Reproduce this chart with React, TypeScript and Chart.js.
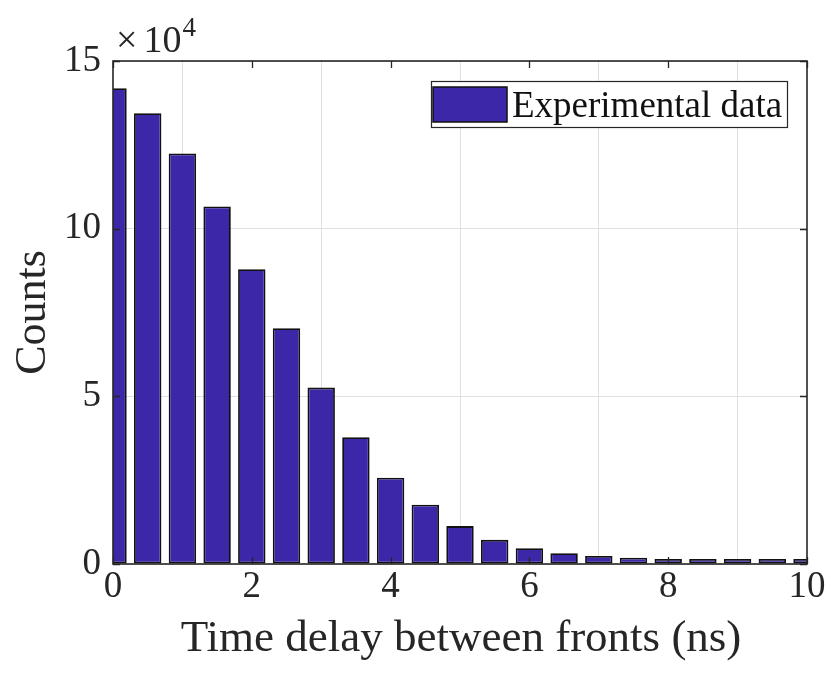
import React, { useEffect, useRef } from 'react';
import { Chart, registerables } from 'chart.js';

Chart.register(...registerables);

// Histogram bin centres (ns)
const binCenters = [0, 0.5, 1, 1.5, 2, 2.5, 3, 3.5, 4, 4.5, 5, 5.5, 6, 6.5, 7, 7.5, 8, 8.5, 9, 9.5, 10];
// Counts per bin
const counts = [
  141900, 134400, 122400, 106600, 87900, 70300, 52600, 37800, 25700, 17700,
  11300, 7200, 4700, 3200, 2400, 1900, 1500, 1500, 1500, 1500, 1500,
];
const seriesLabel = 'Experimental data';
const xTitle = 'Time delay between fronts (ns)';
const yTitle = 'Counts';
const xMin = 0, xMax = 10, xStep = 2;
const yMin = 0, yMax = 150000, yStep = 50000;
const yExponent = 4;

const FONT = '"Liberation Serif", "Times New Roman", serif';
const BAR_FILL = '#3c27a8';
const BAR_EDGE = '#111111';
const AXIS_COLOR = '#262626';

const decorPlugin = {
  id: 'matlabDecor',
  afterDatasetsDraw(chart: any) {
    const { ctx, chartArea: a, scales } = chart;
    const xs = scales.x, ys = scales.y;
    ctx.save();
    ctx.strokeStyle = AXIS_COLOR;
    ctx.lineWidth = 1.3;
    ctx.beginPath();
    const tl = 7;
    for (const t of xs.ticks) {
      const px = Math.round(xs.getPixelForValue(t.value)) + 0.5;
      ctx.moveTo(px, a.bottom); ctx.lineTo(px, a.bottom - tl);
      ctx.moveTo(px, a.top); ctx.lineTo(px, a.top + tl);
    }
    for (const t of ys.ticks) {
      const py = Math.round(ys.getPixelForValue(t.value)) + 0.5;
      ctx.moveTo(a.left, py); ctx.lineTo(a.left + tl, py);
      ctx.moveTo(a.right, py); ctx.lineTo(a.right - tl, py);
    }
    ctx.stroke();
    ctx.lineWidth = 1.6;
    ctx.strokeRect(a.left, a.top, a.right - a.left, a.bottom - a.top);

    // legend
    const lx = 431, ly = 81, lw = 356, lh = 46;
    ctx.fillStyle = '#ffffff';
    ctx.fillRect(lx, ly, lw, lh);
    ctx.lineWidth = 1.2;
    ctx.strokeStyle = AXIS_COLOR;
    ctx.strokeRect(lx + 0.5, ly + 0.5, lw, lh);
    ctx.fillStyle = BAR_FILL;
    ctx.fillRect(433, 87, 74, 35);
    ctx.strokeStyle = BAR_EDGE;
    ctx.lineWidth = 1.5;
    ctx.strokeRect(433, 87, 74, 35);
    ctx.fillStyle = '#111111';
    ctx.font = `37px ${FONT}`;
    ctx.textAlign = 'left';
    ctx.textBaseline = 'alphabetic';
    ctx.fillText(seriesLabel, 512, 117);

    // exponent label
    ctx.fillStyle = '#262626';
    ctx.font = `38px ${FONT}`;
    ctx.fillText('\u00d7', 116, 52);
    const wx = ctx.measureText('\u00d7').width;
    ctx.fillText('10', 116 + wx + 6, 52);
    const w10 = ctx.measureText('10').width;
    ctx.font = `27px ${FONT}`;
    ctx.fillText(String(yExponent), 116 + wx + 6 + w10 + 1, 36);

    // axis titles
    ctx.font = `45px ${FONT}`;
    ctx.textAlign = 'center';
    ctx.fillText(xTitle, (a.left + a.right) / 2 + 1, 651);
    ctx.save();
    ctx.translate(45, (a.top + a.bottom) / 2);
    ctx.rotate(-Math.PI / 2);
    ctx.textBaseline = 'alphabetic';
    ctx.font = `44px ${FONT}`;
    ctx.fillText(yTitle, 0, 0);
    ctx.restore();
    ctx.restore();
  },
};

export default function App() {
  const ref = useRef<HTMLCanvasElement | null>(null);
  useEffect(() => {
    if (!ref.current) return;
    const chart = new Chart(ref.current, {
      type: 'bar',
      data: {
        datasets: [
          {
            label: seriesLabel,
            data: binCenters.map((x, i) => ({ x, y: counts[i] })),
            backgroundColor: BAR_FILL,
            borderColor: BAR_EDGE,
            borderWidth: 1.8,
            borderSkipped: false,
            barPercentage: 0.79,
            categoryPercentage: 1,
            clip: 0,
          } as any,
        ],
      },
      options: {
        responsive: false,
        animation: false,
        devicePixelRatio: 1,
        layout: { padding: { left: 0, right: 24, top: 61, bottom: 0 } },
        plugins: { legend: { display: false }, tooltip: { enabled: false } },
        scales: {
          x: {
            type: 'linear',
            min: xMin,
            max: xMax,
            offset: false,
            afterFit: (s: any) => { s.height = 109; },
            ticks: {
              stepSize: xStep,
              color: '#262626',
              font: { family: FONT, size: 37 },
              padding: 1,
              maxRotation: 0,
            },
            grid: { color: '#e0e0e0', lineWidth: 1, drawTicks: false },
            border: { display: false },
          },
          y: {
            min: yMin,
            max: yMax,
            afterFit: (s: any) => { s.width = 113; },
            ticks: {
              stepSize: yStep,
              color: '#262626',
              font: { family: FONT, size: 37 },
              padding: 12,
              callback: (v: any) => String(Number(v) / Math.pow(10, yExponent)),
            },
            grid: { color: '#e0e0e0', lineWidth: 1, drawTicks: false },
            border: { display: false },
          },
        },
      } as any,
      plugins: [decorPlugin],
    });
    return () => chart.destroy();
  }, []);
  return (
    <div style={{ position: 'absolute', left: 0, top: 0, width: 831, height: 673, background: '#fff' }}>
      <canvas ref={ref} width={831} height={673} style={{ display: 'block' }} />
    </div>
  );
}
